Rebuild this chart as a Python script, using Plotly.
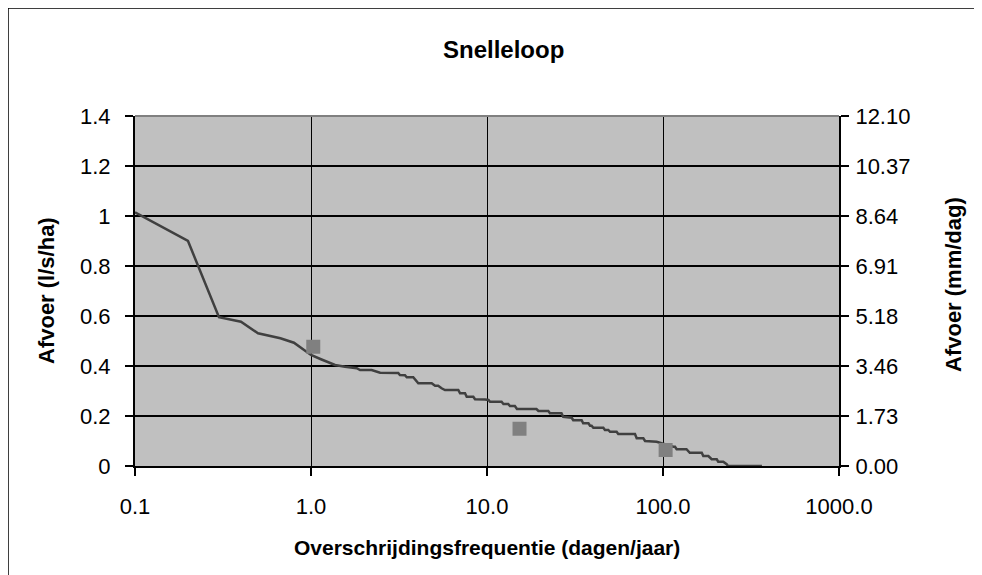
import plotly.graph_objects as go

# Duration curve (step corners)
freq = [0.1, 0.2, 0.3, 0.4, 0.5, 0.67, 0.8, 0.97, 1.0, 1.13, 1.37, 1.56, 1.82, 1.90, 2.21,
        2.47, 3.13, 3.2, 3.42, 3.5, 3.81, 4.07, 4.85, 5.07, 5.28, 5.52, 5.77, 6.87, 7.03, 7.5,
        7.67, 8.36, 8.55, 9.75, 10.2, 10.4, 12.1, 12.4, 13.2, 13.5, 14.4, 14.8, 19.1, 19.6,
        22.3, 22.8, 26.5, 27.1, 29.6, 30.3, 30.9, 34.5, 35.2, 37.7, 38.5, 39.3, 40.2, 45.8,
        46.8, 48.9, 50.0, 54.5, 55.7, 69.3, 70.9, 77.3, 79.1, 90.2, 92.0, 114.4, 117.0, 119.6,
        136.0, 142.0, 166.0, 169.4, 181.0, 189.0, 202.0, 206.0, 220.0, 230.0, 234.0, 365.0]
afvoer = [1.015, 0.90, 0.595, 0.577, 0.531, 0.511, 0.493, 0.451, 0.444, 0.428, 0.404, 0.397,
          0.391, 0.384, 0.384, 0.373, 0.372, 0.364, 0.363, 0.355, 0.355, 0.331, 0.331, 0.321,
          0.321, 0.311, 0.304, 0.304, 0.291, 0.291, 0.277, 0.277, 0.267, 0.266, 0.264, 0.257,
          0.257, 0.248, 0.248, 0.240, 0.240, 0.228, 0.228, 0.220, 0.220, 0.211, 0.211, 0.197,
          0.196, 0.193, 0.183, 0.183, 0.171, 0.171, 0.161, 0.161, 0.153, 0.153, 0.144, 0.144,
          0.137, 0.137, 0.128, 0.128, 0.111, 0.111, 0.100, 0.100, 0.097, 0.077, 0.077, 0.067,
          0.067, 0.053, 0.053, 0.040, 0.040, 0.027, 0.027, 0.017, 0.017, 0.007, 0.0, 0.0]

# Marker points
pt_freq = [1.03, 15.3, 103.5]
pt_afvoer = [0.477, 0.149, 0.064]

x_tickvals = [0.1, 1, 10, 100, 1000]
x_ticktext = ["0.1", "1.0", "10.0", "100.0", "1000.0"]
y_tickvals = [0, 0.2, 0.4, 0.6, 0.8, 1.0, 1.2, 1.4]
y_ticktext = ["0", "0.2", "0.4", "0.6", "0.8", "1", "1.2", "1.4"]
y2_ticktext = ["0.00", "1.73", "3.46", "5.18", "6.91", "8.64", "10.37", "12.10"]
factor = 8.64  # l/s/ha -> mm/dag

FONT = "Liberation Sans, Arial, sans-serif"

fig = go.Figure()
fig.add_trace(go.Scatter(x=freq, y=afvoer, mode="lines",
                         line=dict(color="#404040", width=2.5), showlegend=False,
                         hoverinfo="skip"))
fig.add_trace(go.Scatter(x=pt_freq, y=pt_afvoer, mode="markers",
                         marker=dict(symbol="square", size=14, color="#808080"),
                         showlegend=False))
fig.add_trace(go.Scatter(x=[freq[0]], y=[afvoer[0] * factor], yaxis="y2", mode="markers",
                         marker=dict(opacity=0), showlegend=False, hoverinfo="skip"))

# page body has an 8px margin; work in window pixels and convert
OFF = 8
W, H = 982 - OFF, 575 - OFF
L, R, T, B = 135, 839, 116, 466  # plot area in window pixels

def px(xp):
    return (xp - L) / (R - L)

def py(yp):
    return (B - yp) / (B - T)

fig.update_layout(
    width=W, height=H,
    margin=dict(l=L - OFF, r=W - (R - OFF), t=T - OFF, b=H - (B - OFF), pad=0),
    paper_bgcolor="white", plot_bgcolor="#C0C0C0",
    font=dict(family=FONT, size=22, color="black"),
    xaxis=dict(type="log", range=[-1, 3], tickvals=x_tickvals, ticktext=x_ticktext,
               showgrid=True, gridcolor="black", gridwidth=1,
               showline=True, linecolor="black", linewidth=2,
               ticks="outside", ticklen=8, tickwidth=2, tickcolor="black",
               ticklabelstandoff=12, zeroline=False, fixedrange=True),
    yaxis=dict(range=[0, 1.4], tickvals=y_tickvals, ticktext=y_ticktext,
               showgrid=True, gridcolor="black", gridwidth=1.5,
               showline=True, linecolor="black", linewidth=2,
               ticks="outside", ticklen=8, tickwidth=2, tickcolor="black",
               ticklabelstandoff=10, zeroline=False, fixedrange=True),
    yaxis2=dict(range=[0, 1.4 * factor], overlaying="y", side="right",
                tickvals=[v * factor for v in y_tickvals], ticktext=y2_ticktext,
                showgrid=False, showline=True, linecolor="black", linewidth=2,
                ticks="outside", ticklen=8, tickwidth=2, tickcolor="black",
                ticklabelstandoff=2, zeroline=False, fixedrange=True),
    shapes=[
        dict(type="line", xref="paper", yref="paper", x0=0, x1=1, y0=1, y1=1,
             line=dict(color="#808080", width=2)),
        dict(type="rect", xref="paper", yref="paper", x0=px(8), x1=px(977),
             y0=py(590), y1=py(8), line=dict(color="black", width=1.5)),
    ],
    annotations=[
        dict(text="<b>Snelleloop</b>", xref="paper", yref="paper", x=px(503), y=py(50),
             showarrow=False, font=dict(size=24), xanchor="center", yanchor="middle"),
        dict(text="<b>Afvoer (l/s/ha)</b>", xref="paper", yref="paper", x=px(46), y=py(290),
             showarrow=False, textangle=-90, font=dict(size=22), xanchor="center",
             yanchor="middle"),
        dict(text="<b>Afvoer (mm/dag)</b>", xref="paper", yref="paper", x=px(953), y=py(285),
             showarrow=False, textangle=-90, font=dict(size=22), xanchor="center",
             yanchor="middle"),
        dict(text="<b>Overschrijdingsfrequentie (dagen/jaar)</b>", xref="paper",
             yref="paper", x=px(487), y=py(547), showarrow=False, font=dict(size=21),
             xanchor="center", yanchor="middle"),
    ],
)

fig.write_html("out.html")
